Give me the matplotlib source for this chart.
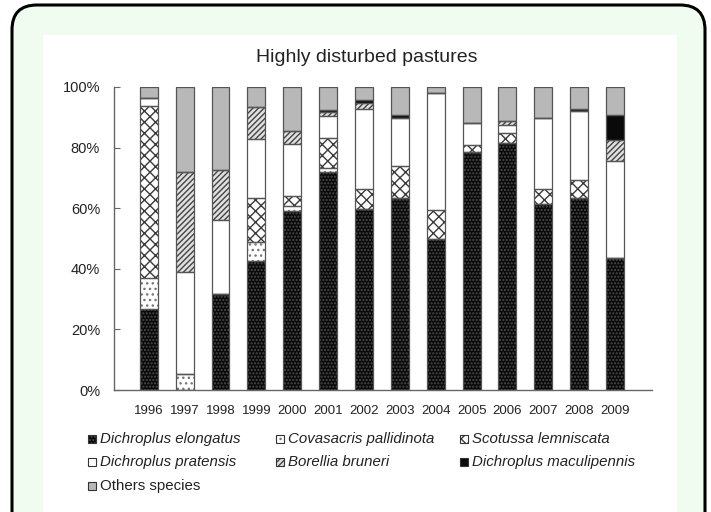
import matplotlib
matplotlib.use('Agg')
import matplotlib.pyplot as plt
import numpy as np
from matplotlib.patches import FancyBboxPatch, Rectangle

plt.rcParams['font.family'] = ['Liberation Sans', 'DejaVu Sans']
plt.rcParams['hatch.linewidth'] = 1.0

# Data (percent of individuals per year)
years = ['1996', '1997', '1998', '1999', '2000', '2001', '2002',
         '2003', '2004', '2005', '2006', '2007', '2008', '2009']
elongatus = [26.6, 0, 31.6, 42.7, 59.1, 72.1, 59.8, 63.5, 49.9, 78.5, 81.5, 61.3, 63.5, 43.5]
covasacris = [10.3, 5.3, 0, 6.1, 1.7, 1.1, 0, 0, 0, 0, 0, 0, 0, 0]
scotussa = [56.7, 0, 0, 14.7, 3.3, 9.9, 6.5, 10.3, 9.6, 2.5, 3.3, 5.0, 5.9, 0]
pratensis = [2.8, 33.6, 24.6, 19.4, 17.1, 7.2, 26.5, 16.0, 38.5, 7.1, 2.8, 23.5, 22.6, 32.2]
borellia = [0, 33.2, 16.5, 10.4, 4.2, 1.4, 2.0, 0, 0, 0, 1.3, 0, 0, 6.9]
maculipennis = [0, 0, 0, 0, 0, 0.8, 1.0, 1.1, 0, 0, 0, 0, 0.7, 8.0]
others = [3.6, 27.9, 27.3, 6.7, 14.6, 7.5, 4.2, 9.1, 2.0, 11.9, 11.1, 10.2, 7.3, 9.4]

# (name, values, facecolor, hatch, hatch colour)
series = [
    ('Dichroplus elongatus', elongatus, '#0a0a0a', '.....', '#4a4a4a'),
    ('Covasacris pallidinota', covasacris, 'white', '...', '#777777'),
    ('Scotussa lemniscata', scotussa, 'white', 'xxx', '#3a3a3a'),
    ('Dichroplus pratensis', pratensis, 'white', None, None),
    ('Borellia bruneri', borellia, '#e0e0e0', '//////', '#444444'),
    ('Dichroplus maculipennis', maculipennis, '#0a0a0a', None, None),
    ('Others species', others, '#b8b8b8', None, None),
]

W, H = 711, 512
fig = plt.figure(figsize=(W / 100, H / 100), dpi=100)
fig.patch.set_facecolor('white')

# rounded green frame and white panel
frame = FancyBboxPatch((12 / W, -0.1), 693 / W, (H - 5) / H + 0.1,
                       boxstyle='round,pad=0,rounding_size=0.035',
                       mutation_aspect=W / H,
                       transform=fig.transFigure, facecolor='#effcef',
                       edgecolor='black', linewidth=2.2, zorder=0)
fig.add_artist(frame)
panel = Rectangle((43 / W, -0.01), 634 / W, (H - 35) / H + 0.01,
                  transform=fig.transFigure, facecolor='white',
                  edgecolor='none', zorder=0.5)
fig.add_artist(panel)

ax = fig.add_axes([114 / W, (H - 390) / H, 538 / W, 303 / H])
ax.set_facecolor('none')
ax.set_zorder(2)

x = np.arange(len(years))
bottom = np.zeros(len(years))
width = 0.5
for name, vals, fc, hatch, hc in series:
    vals = np.array(vals, dtype=float)
    if hatch:
        ax.bar(x, vals, width, bottom=bottom, color=fc, edgecolor=hc,
               hatch=hatch, linewidth=0, zorder=2)
    else:
        ax.bar(x, vals, width, bottom=bottom, color=fc, linewidth=0, zorder=2)
    ax.bar(x, vals, width, bottom=bottom, fill=False, edgecolor='#555555',
           linewidth=0.9, zorder=3)
    bottom += vals

ax.set_xlim(-0.97, 14.03)
ax.set_ylim(0, 100)
ax.set_xticks(x)
ax.set_xticklabels(years, fontsize=9.5, color='#222222')
ax.set_yticks(np.arange(0, 101, 20))
ax.set_yticklabels(['%d%%' % v for v in range(0, 101, 20)], fontsize=10.5,
                   color='#222222')
ax.tick_params(axis='x', length=0, pad=11)
ax.tick_params(axis='y', direction='in', length=4, pad=10, color='#666666')
for s in ['top', 'right']:
    ax.spines[s].set_visible(False)
for s in ['left', 'bottom']:
    ax.spines[s].set_color('#666666')
    ax.spines[s].set_linewidth(1)

fig.text(367 / W, 1 - 57 / H, 'Highly disturbed pastures', ha='center',
         va='center', fontsize=14, color='#222222')

# legend laid out by hand in three columns
leg_x = [92, 280, 464]
leg_y = [439, 462, 486]
slots = [(0, 0), (1, 0), (2, 0), (0, 1), (1, 1), (2, 1), (0, 2)]
for (name, vals, fc, hatch, hc), (c, r) in zip(series, slots):
    px, py = leg_x[c], leg_y[r]
    sq = 8
    box = ((px - sq / 2) / W, 1 - (py + sq / 2) / H)
    if hatch:
        fig.add_artist(Rectangle(box, sq / W, sq / H, transform=fig.transFigure,
                                 facecolor=fc, edgecolor=hc, hatch=hatch,
                                 linewidth=0, zorder=3))
    else:
        fig.add_artist(Rectangle(box, sq / W, sq / H, transform=fig.transFigure,
                                 facecolor=fc, linewidth=0, zorder=3))
    fig.add_artist(Rectangle(box, sq / W, sq / H, transform=fig.transFigure,
                             fill=False, edgecolor='#333333',
                             linewidth=0.8, zorder=4))
    style = 'normal' if name == 'Others species' else 'italic'
    fig.text((px + 8) / W, 1 - py / H, name, ha='left', va='center',
             fontsize=10.8, style=style, color='#222222')

fig.savefig('out.png', dpi=100)
